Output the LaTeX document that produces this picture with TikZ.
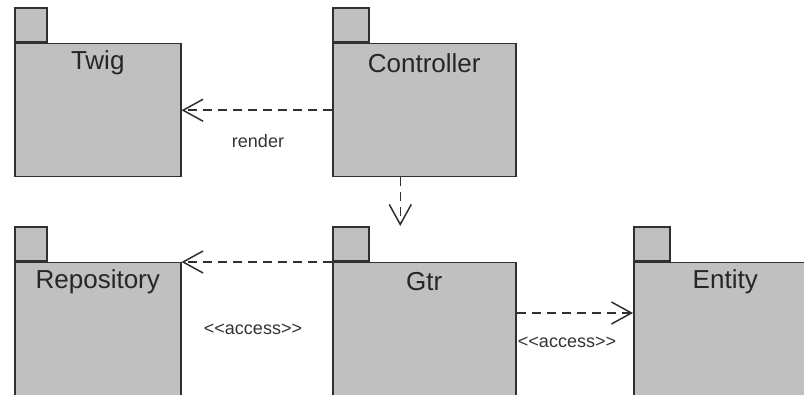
\documentclass[tikz,border=0pt]{standalone}
\usepackage{fontspec}
\setmainfont{Liberation Sans}
\usetikzlibrary{arrows.meta,positioning}
\definecolor{pkgfill}{HTML}{C0C0C0}
\definecolor{pkgline}{HTML}{303030}
\begin{document}
\begin{tikzpicture}[x=1pt,y=1pt,
pkg/.style ={rectangle, draw=pkgline, line width=1.5pt, fill=pkgfill,
  anchor=north west, inner sep=0pt, minimum height=133pt
},
tab/.style ={rectangle, draw=pkgline, line width=1.5pt, fill=pkgfill,
  inner sep=0pt, minimum height=34pt
},
pkgname/.style ={text=black!85, font=\fontsize{26}{30}\selectfont},
deplabel/.style ={text=black!80, font=\fontsize{18}{21}\selectfont},
dep/.style ={draw=pkgline, line width=1.5pt, dash pattern=on 9pt off 6pt,
  -{Straight Barb[length=20pt,width=22pt,line width=1.5pt]}
}]
\useasboundingbox (0,0) rectangle (804,394);
\clip (0,0) rectangle (804,394);

\node (twig) at (14,351) [pkg, minimum width=166pt] {};
\node (twigtab) [tab, minimum width=32pt, above right=0pt of twig.north west] {};
\node (twigname) at ([yshift=-20pt]twig.north) [pkgname] {Twig};

\node (ctrl) at (332,351) [pkg, minimum width=183pt] {};
\node (ctrltab) [tab, minimum width=36pt, above right=0pt of ctrl.north west] {};
\node (ctrlname) at ([yshift=-20pt]ctrl.north) [pkgname] {Controller};

\node (repo) at (14,132) [pkg, minimum width=166pt, minimum height=150pt] {};
\node (repotab) [tab, minimum width=32pt, above right=0pt of repo.north west] {};
\node (reponame) at ([yshift=-20pt]repo.north) [pkgname] {Repository};

\node (gtr) at (332,132) [pkg, minimum width=183pt, minimum height=150pt] {};
\node (gtrtab) [tab, minimum width=36pt, above right=0pt of gtr.north west] {};
\node (gtrname) at ([yshift=-20pt]gtr.north) [pkgname] {Gtr};

\node (ent) at (633,132) [pkg, minimum width=183pt, minimum height=150pt] {};
\node (enttab) [tab, minimum width=36pt, above right=0pt of ent.north west] {};
\node (entname) at ([yshift=-20pt]ent.north) [pkgname] {Entity};

% dependencies
\draw [dep] (ctrl.west) -- (twig.east);
\draw [dep] ([xshift=-24pt]ctrl.south) -- ([xshift=-24pt,yshift=36pt]gtr.north);
\draw [dep] (gtr.north west) -- (repo.north east);
\draw [dep] ([yshift=-51pt]gtr.north east) -- ([yshift=-51pt]ent.north west);

\node (renderlbl) at (258,253) [deplabel] {render};
\node (repolbl) at (253,65) [deplabel] {<{}<access>{}>};
\node (entlbl) at (567,52) [deplabel] {<{}<access>{}>};

\end{tikzpicture}
\end{document}
